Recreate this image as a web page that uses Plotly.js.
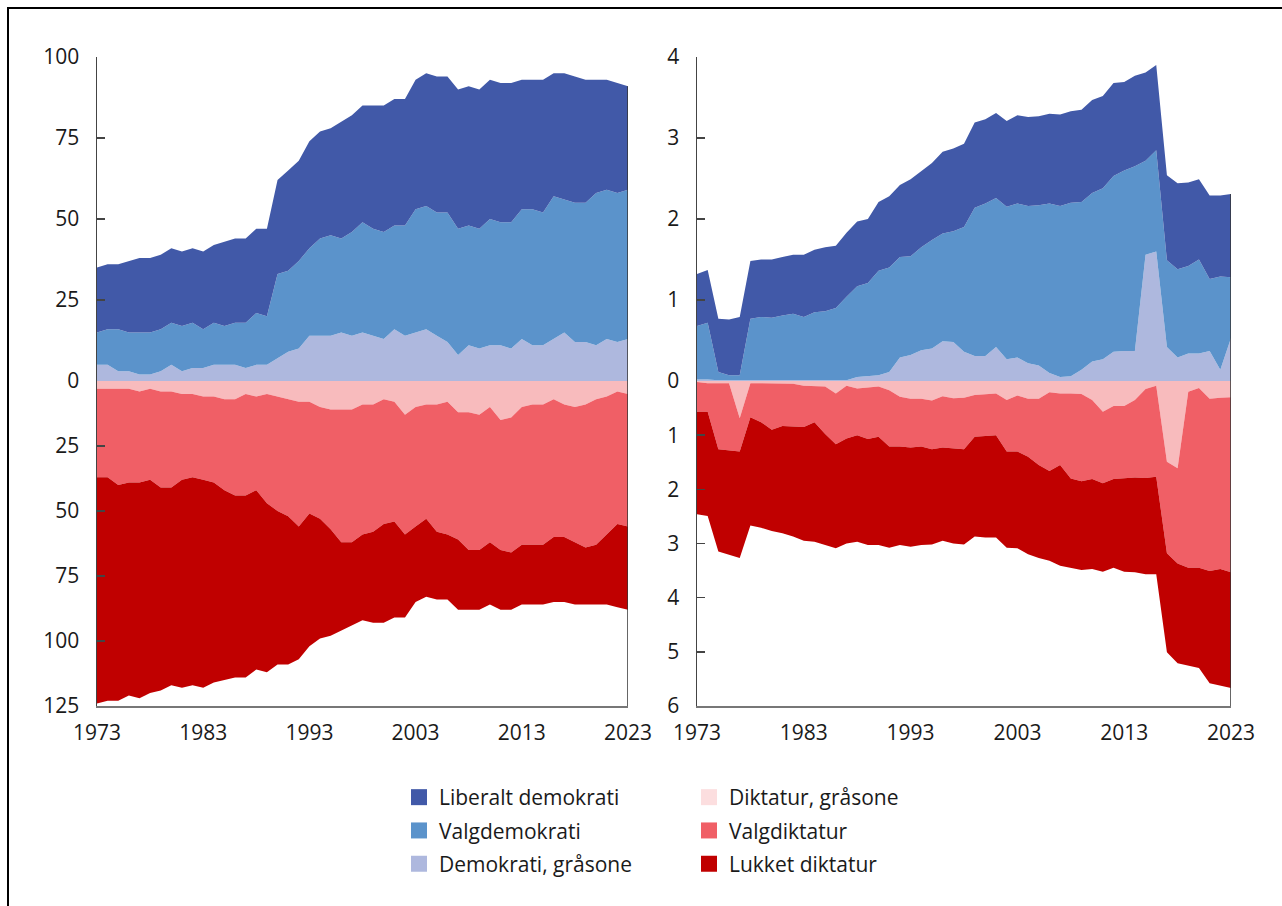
<!DOCTYPE html>
<html><head><meta charset="utf-8">
<script src="https://cdn.plot.ly/plotly-3.0.1.min.js"></script>
<style>html,body{margin:0;padding:0;background:#fff}#chart{width:1282px;height:906px}</style>
</head><body><div id="chart"></div>
<script>
const years = [1973,1974,1975,1976,1977,1978,1979,1980,1981,1982,1983,1984,1985,1986,1987,1988,1989,1990,1991,1992,1993,1994,1995,1996,1997,1998,1999,2000,2001,2002,2003,2004,2005,2006,2007,2008,2009,2010,2011,2012,2013,2014,2015,2016,2017,2018,2019,2020,2021,2022,2023];
const xTicks = [1973,1983,1993,2003,2013,2023];

// Left panel: number of countries
const landLiberalt = [20,20,20,22,23,23,23,23,23,23,24,24,26,26,26,26,27,29,31,31,33,33,33,36,36,36,38,39,39,39,40,41,42,42,43,43,43,43,43,43,40,40,41,38,39,39,38,35,34,34,32];
const landValgdemokrati = [10,11,13,12,13,13,13,13,14,14,12,13,12,13,14,16,15,26,25,27,27,30,31,29,32,34,33,33,32,34,38,38,38,40,39,37,37,39,38,39,40,42,41,44,41,43,43,47,46,46,46];
const landDemGraa = [5,5,3,3,2,2,3,5,3,4,4,5,5,5,4,5,5,7,9,10,14,14,14,15,14,15,14,13,16,14,15,16,14,12,8,11,10,11,11,10,13,11,11,13,15,12,12,11,13,12,13];
const landDiktGraa = [3,3,3,3,4,3,4,4,5,5,6,6,7,7,5,6,5,6,7,8,8,10,11,11,11,9,9,7,8,13,10,9,9,8,12,12,13,10,15,14,10,9,9,7,9,10,9,7,6,4,5];
const landValgdiktatur = [34,34,37,36,35,35,37,37,33,32,32,33,35,37,39,36,42,44,45,48,43,43,46,51,51,50,49,48,46,46,46,44,49,51,49,53,52,52,50,52,53,54,54,53,51,52,55,56,53,51,51];
const landLukket = [87,86,83,82,83,82,78,76,80,80,80,77,73,70,70,69,65,59,57,51,51,46,41,34,32,33,35,38,37,32,29,30,26,25,27,23,23,24,23,22,23,23,23,25,25,24,22,23,27,32,32];

// Right panel: population, billions
const befLiberalt = [0.64,0.65,0.66,0.69,0.72,0.71,0.71,0.72,0.72,0.73,0.77,0.77,0.79,0.77,0.79,0.80,0.79,0.85,0.88,0.89,0.95,0.94,0.95,1.01,1.02,1.03,1.05,1.04,1.05,1.06,1.09,1.10,1.10,1.11,1.13,1.13,1.14,1.15,1.14,1.15,1.09,1.12,1.09,1.05,1.05,1.06,1.03,0.99,1.03,1.00,1.03];
const befValgdemokrati = [0.66,0.70,0.10,0.06,0.06,0.76,0.78,0.77,0.80,0.82,0.78,0.84,0.85,0.89,1.03,1.12,1.15,1.29,1.29,1.24,1.22,1.27,1.34,1.33,1.37,1.54,1.83,1.88,1.84,1.88,1.90,1.94,1.98,2.09,2.11,2.14,2.07,2.08,2.11,2.17,2.23,2.28,1.16,1.25,1.07,1.09,1.08,1.16,0.89,1.15,0.75];
const befDemGraa = [0.02,0.02,0.01,0.01,0.01,0.01,0.01,0.01,0.01,0.01,0.01,0.01,0.01,0.01,0.01,0.05,0.06,0.07,0.11,0.29,0.32,0.38,0.40,0.49,0.48,0.36,0.31,0.31,0.42,0.27,0.29,0.22,0.19,0.10,0.05,0.06,0.14,0.24,0.27,0.36,0.37,0.37,1.56,1.60,0.42,0.29,0.34,0.34,0.37,0.14,0.53];
const befDiktGraa = [0.02,0.04,0.04,0.04,0.69,0.04,0.04,0.04,0.04,0.05,0.09,0.09,0.10,0.23,0.09,0.14,0.12,0.10,0.17,0.29,0.33,0.33,0.36,0.28,0.32,0.31,0.26,0.24,0.23,0.35,0.27,0.33,0.33,0.21,0.23,0.23,0.24,0.35,0.57,0.46,0.46,0.35,0.15,0.09,1.49,1.61,0.20,0.13,0.33,0.31,0.30];
const befValgdiktatur = [0.55,0.53,1.22,1.24,0.61,0.63,0.72,0.86,0.79,0.79,0.76,0.67,0.88,0.94,0.97,0.86,0.95,0.93,1.04,0.92,0.90,0.88,0.90,0.95,0.92,0.95,0.77,0.78,0.77,0.95,1.03,1.07,1.22,1.45,1.32,1.57,1.61,1.46,1.32,1.35,1.33,1.43,1.64,1.68,1.69,1.76,3.25,3.32,3.18,3.16,3.23];
const befLukket = [1.89,1.92,1.89,1.93,1.97,2.00,1.95,1.87,1.98,2.03,2.10,2.21,2.05,1.92,1.94,1.97,1.96,2.00,1.87,1.82,1.83,1.82,1.76,1.72,1.76,1.76,1.84,1.87,1.89,1.78,1.79,1.80,1.72,1.66,1.86,1.65,1.64,1.66,1.63,1.64,1.73,1.75,1.78,1.80,1.83,1.84,1.81,1.85,2.07,2.16,2.14];

const names = ['Liberalt demokrati','Valgdemokrati','Demokrati, gråsone','Diktatur, gråsone','Valgdiktatur','Lukket diktatur'];
const fillColors = ['#4159A8','#5B93CB','#AEB8DE','#F8BBBD','#F05F66','#C00000'];
const legendColors = ['#4159A8','#5B93CB','#AEB8DE','#FCDEDF','#F05F66','#C00000'];

function area(y, xa, ya, group, idx){
  return {type:'scatter', mode:'lines', x:years, y:y, xaxis:xa, yaxis:ya, stackgroup:group,
    line:{width:0, color:fillColors[idx]}, fillcolor:fillColors[idx], showlegend:false, hoverinfo:'skip'};
}
const traces = [
  area(landDemGraa,'x','y','lt',2), area(landValgdemokrati,'x','y','lt',1), area(landLiberalt,'x','y','lt',0),
  area(landDiktGraa,'x2','y2','lb',3), area(landValgdiktatur,'x2','y2','lb',4), area(landLukket,'x2','y2','lb',5),
  area(befDemGraa,'x3','y3','rt',2), area(befValgdemokrati,'x3','y3','rt',1), area(befLiberalt,'x3','y3','rt',0),
  area(befDiktGraa,'x4','y4','rb',3), area(befValgdiktatur,'x4','y4','rb',4), area(befLukket,'x4','y4','rb',5)
];
names.forEach((n,i)=>{
  traces.push({type:'scatter', mode:'markers', x:[null], y:[null], name:n, legendgroup:'g'+i, xaxis:'x', yaxis:'y',
    marker:{symbol:'square', size:16, color:legendColors[i]}, legend: i<3 ? 'legend' : 'legend2', hoverinfo:'skip'});
});

const W=1282, H=906;
const px = v => v/W, py = v => 1 - v/H;
const xL=[px(97),px(628)], xR=[px(697),px(1231)];
const yTop=[py(381),py(57)], yBot=[py(706),py(381)];
const FONT = '"Open Sans", "Noto Sans", sans-serif';
const tf = {family:FONT, size:21, color:'#1a1a1a'};
const yBase = {showline:true, linecolor:'#444', linewidth:1.5, ticks:'inside', ticklen:8, tickcolor:'#444', tickwidth:1.5,
  showgrid:false, zeroline:false, tickfont:tf, ticklabelstandoff:12, fixedrange:true};
const xHidden = {range:[1973,2023], showticklabels:false, showline:false, showgrid:false, zeroline:false, ticks:'', fixedrange:true};
const xShown = {range:[1973,2023], tickvals:xTicks, ticktext:xTicks.map(String), showline:true, linecolor:'#777', linewidth:1.5,
  showgrid:false, zeroline:false, ticks:'', tickfont:tf, ticklabelstandoff:7, fixedrange:true};

const last = years.length-1;
const totLT = landDemGraa[last]+landValgdemokrati[last]+landLiberalt[last];
const totRT = befDemGraa[last]+befValgdemokrati[last]+befLiberalt[last];
const edge = (xr, yr, y0, y1) => ({type:'line', xref:xr, yref:yr, x0:2023, x1:2023, y0:y0, y1:y1, line:{color:'#333', width:1.5}});

const legBase = {xanchor:'left', yanchor:'top', orientation:'v', bgcolor:'rgba(0,0,0,0)', font:tf, traceorder:'grouped', tracegroupgap:3, itemclick:false, itemdoubleclick:false};
const layout = {
  width:W, height:H, margin:{l:0,r:0,t:0,b:0}, paper_bgcolor:'#fff', plot_bgcolor:'rgba(0,0,0,0)',
  font:{family:FONT, size:21, color:'#1a1a1a'},
  xaxis:Object.assign({domain:xL, anchor:'y'}, xHidden),
  xaxis2:Object.assign({domain:xL, anchor:'y2'}, xShown),
  xaxis3:Object.assign({domain:xR, anchor:'y3'}, xHidden),
  xaxis4:Object.assign({domain:xR, anchor:'y4'}, xShown),
  yaxis:Object.assign({domain:yTop, anchor:'x', range:[0,100], tickvals:[0,25,50,75,100]}, yBase),
  yaxis2:Object.assign({domain:yBot, anchor:'x2', range:[125,0], tickvals:[25,50,75,100,125]}, yBase),
  yaxis3:Object.assign({domain:yTop, anchor:'x3', range:[0,4], tickvals:[0,1,2,3,4]}, yBase),
  yaxis4:Object.assign({domain:yBot, anchor:'x4', range:[6,0], tickvals:[1,2,3,4,5,6]}, yBase),
  legend:Object.assign({x:px(399), y:py(777)}, legBase),
  legend2:Object.assign({x:px(689), y:py(777)}, legBase),
  shapes:[
    edge('x','y',0,totLT), edge('x2','y2',0,125), edge('x3','y3',0,totRT), edge('x4','y4',0,6),
    {type:'rect', xref:'paper', yref:'paper', x0:px(8), x1:1.05, y0:-0.05, y1:py(8), line:{color:'#000', width:2}, fillcolor:'rgba(0,0,0,0)'}
  ]
};
Plotly.newPlot('chart', traces, layout, {displayModeBar:false, staticPlot:true});
</script></body></html>
